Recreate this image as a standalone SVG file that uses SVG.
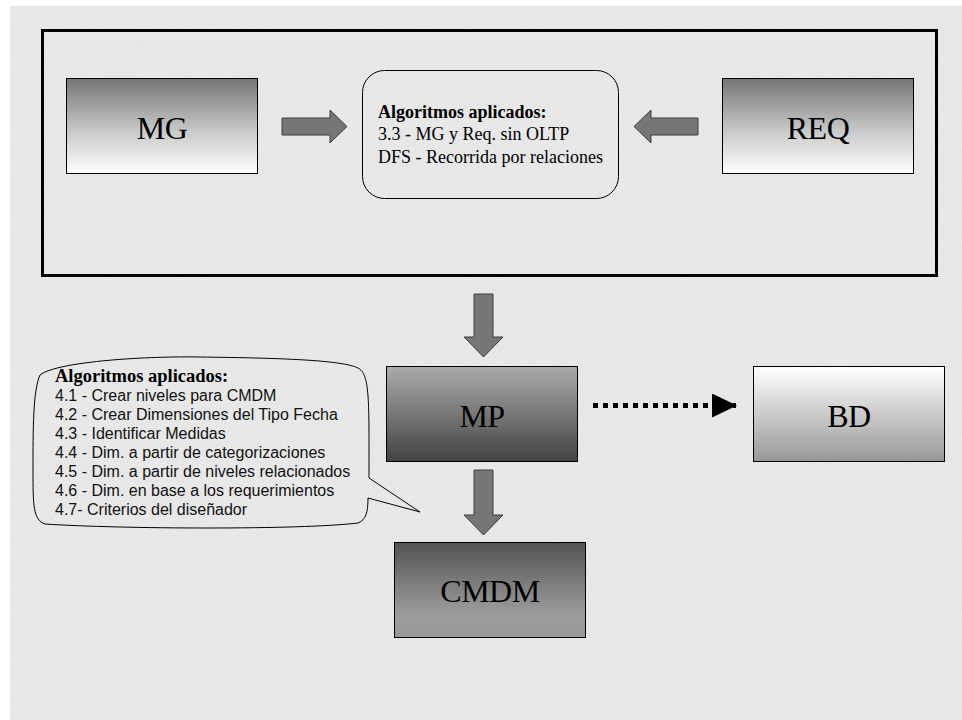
<svg xmlns="http://www.w3.org/2000/svg" width="962" height="720" viewBox="0 0 962 720">
  <defs>
    <linearGradient id="gLightBottom" x1="0" y1="0" x2="0" y2="1">
      <stop offset="0" stop-color="#767676"/>
      <stop offset="0.55" stop-color="#c8c8c8"/>
      <stop offset="1" stop-color="#ffffff"/>
    </linearGradient>
    <linearGradient id="gDarkBottom" x1="0" y1="0" x2="0" y2="1">
      <stop offset="0" stop-color="#ababab"/>
      <stop offset="1" stop-color="#434343"/>
    </linearGradient>
    <linearGradient id="gWhiteTop" x1="0" y1="0" x2="0" y2="1">
      <stop offset="0" stop-color="#ffffff"/>
      <stop offset="1" stop-color="#979797"/>
    </linearGradient>
    <linearGradient id="gDarkTop" x1="0" y1="0" x2="0" y2="1">
      <stop offset="0" stop-color="#525252"/>
      <stop offset="0.75" stop-color="#9c9c9c"/>
      <stop offset="1" stop-color="#989898"/>
    </linearGradient>
    <filter id="paper" x="0" y="0" width="100%" height="100%">
      <feTurbulence type="fractalNoise" baseFrequency="0.9 0.25" numOctaves="2" seed="4" result="n"/>
      <feColorMatrix type="matrix" values="0 0 0 0 0.55  0 0 0 0 0.55  0 0 0 0 0.55  0 0 0 0.18 0" result="c"/>
      <feComposite in="c" in2="SourceGraphic" operator="in"/>
    </filter>
    <marker id="tri" markerWidth="26" markerHeight="24" refX="24" refY="12" orient="auto" markerUnits="userSpaceOnUse">
      <path d="M0,0 L25,12 L0,24 Z" fill="#000"/>
    </marker>
  </defs>
  <style>
    .box { stroke: #000; stroke-width: 1; }
    .big { font-family: "Liberation Serif", "Times New Roman", serif; font-size: 32px; fill: #000; text-anchor: middle; letter-spacing: -0.5px; }
    .ser { font-family: "Liberation Serif", "Times New Roman", serif; font-size: 18px; fill: #000; }
    .serb { font-family: "Liberation Serif", "Times New Roman", serif; font-weight: bold; fill: #000; }
    .san { font-family: "Liberation Sans", Arial, sans-serif; font-size: 16px; fill: #111; }
    .blk { fill: #767676; stroke: #3c3c3c; stroke-width: 1; }
  </style>

  <!-- paper background -->
  <rect x="0" y="0" width="962" height="720" fill="#ffffff"/>
  <rect x="10" y="6" width="952" height="714" fill="#ebebeb"/>
  <rect x="10" y="6" width="952" height="714" fill="#ebebeb" filter="url(#paper)"/>

  <!-- outer frame -->
  <rect id="frame" x="42.5" y="30.5" width="894" height="245" fill="none" stroke="#000" stroke-width="3"/>

  <g id="MG">
    <rect class="box" x="66.5" y="78.5" width="191" height="95" fill="url(#gLightBottom)"/>
    <text class="big" x="162" y="139">MG</text>
  </g>

  <g id="algoritmos-top">
    <rect x="362.5" y="70.5" width="256" height="128" rx="22" ry="22" fill="none" stroke="#000" stroke-width="1"/>
    <text class="serb" x="378" y="118" font-size="18">Algoritmos aplicados:</text>
    <text class="ser" x="378" y="140">3.3 - MG y Req. sin OLTP</text>
    <text class="ser" x="378" y="163">DFS - Recorrida por relaciones</text>
  </g>

  <g id="REQ">
    <rect class="box" x="722.5" y="78.5" width="191" height="95" fill="url(#gLightBottom)"/>
    <text class="big" x="818" y="139">REQ</text>
  </g>

  <g id="MP">
    <rect class="box" x="386.5" y="366.5" width="191" height="95" fill="url(#gDarkBottom)"/>
    <text class="big" x="482" y="427">MP</text>
  </g>

  <g id="BD">
    <rect class="box" x="753.5" y="366.5" width="191" height="95" fill="url(#gWhiteTop)"/>
    <text class="big" x="849" y="427">BD</text>
  </g>

  <g id="CMDM">
    <rect class="box" x="394.5" y="542.5" width="191" height="95" fill="url(#gDarkTop)"/>
    <text class="big" x="490" y="602">CMDM</text>
  </g>

  <g id="algoritmos-bubble">
    <path d="M40,375 C58,361 150,356 200,357 C280,358 342,360 358,368 C370,374 369,400 369,478 L420,512 L368,498 C368,512 366,520 358,523 C300,530 120,529 45,524 C33,520 33,505 33,470 C33,430 33,390 40,375 Z" fill="none" stroke="#000" stroke-width="1"/>
    <text class="serb" x="55" y="382" font-size="18.5">Algoritmos aplicados:</text>
    <text class="san" x="55" y="401">4.1 - Crear niveles para CMDM</text>
    <text class="san" x="55" y="420">4.2 - Crear Dimensiones del Tipo Fecha</text>
    <text class="san" x="55" y="439">4.3 - Identificar Medidas</text>
    <text class="san" x="55" y="458">4.4 - Dim. a partir de categorizaciones</text>
    <text class="san" x="55" y="477">4.5 - Dim. a partir de niveles relacionados</text>
    <text class="san" x="55" y="496">4.6 - Dim. en base a los requerimientos</text>
    <text class="san" x="55" y="515">4.7- Criterios del diseñador</text>
  </g>

  <g id="connectors">
    <!-- MG -> algorithms -->
    <path class="blk" d="M282,118 L330,118 L330,110 L347,126.5 L330,143 L330,135 L282,135 Z"/>
    <!-- REQ -> algorithms -->
    <path class="blk" d="M698,118 L651,118 L651,110 L634,126.5 L651,143 L651,135 L698,135 Z"/>
    <!-- frame -> MP -->
    <path class="blk" d="M474,294 L493,294 L493,337 L503,337 L483.5,357 L464,337 L474,337 Z"/>
    <!-- MP -> CMDM -->
    <path class="blk" d="M474,470 L493,470 L493,515 L503,515 L483.5,535 L464,515 L474,515 Z"/>
    <!-- MP -> BD (dotted) -->
    <line x1="593" y1="405.5" x2="736" y2="405.5" stroke="#000" stroke-width="5" stroke-dasharray="5 5" marker-end="url(#tri)"/>
  </g>
</svg>
